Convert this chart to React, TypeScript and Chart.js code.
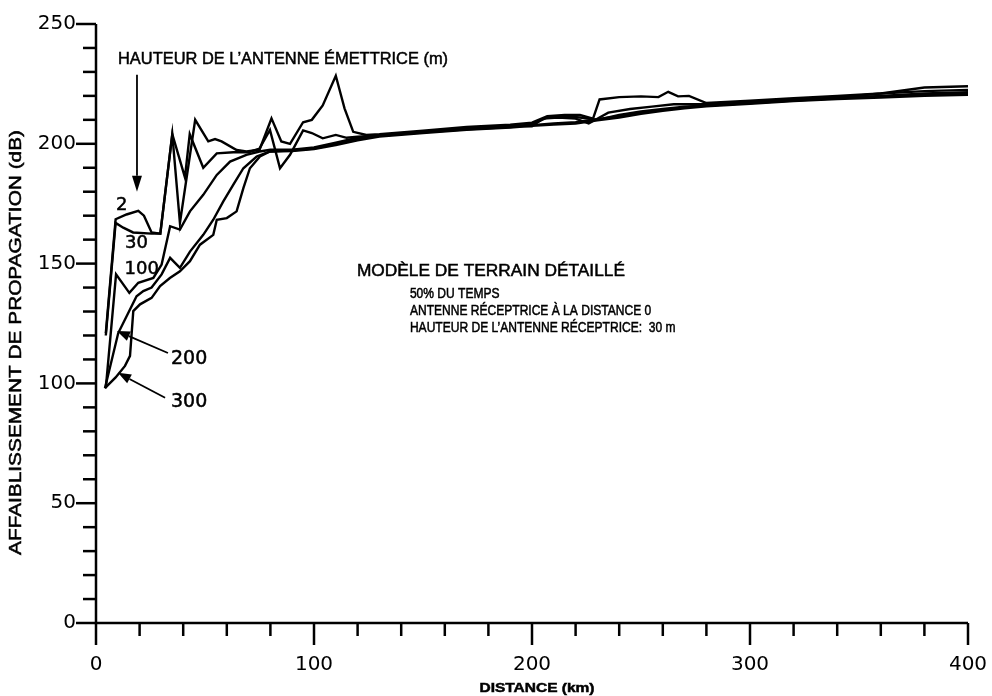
import React, { useEffect, useRef } from 'react';
import { Chart, registerables } from 'chart.js';
Chart.register(...registerables);

// Transmitting antenna heights (m)
const heights = ['2', '30', '100', '200', '300'];

// Distance (km) / path loss (dB) for each antenna height
const dist2 = [4.5, 9, 14, 19.4, 22, 25.5, 29.5, 35, 38.5, 45.5, 51.5, 54.6, 57.6, 64.5, 69, 75, 80.5, 85, 89, 95, 99, 104, 110, 114, 118, 124, 130, 150, 170, 190, 200, 207, 215, 222, 228, 231, 240, 250, 258, 262.5, 267, 272, 280, 300, 320, 340, 360, 380, 400];
const loss2 = [121, 168.5, 170.5, 172, 170, 163, 162.5, 204, 167, 210, 201, 202, 201, 197.4, 196.8, 197.5, 210.6, 201, 200, 209, 210, 216, 228.4, 214.8, 205, 203.7, 204, 205.5, 207, 208, 208.8, 211.5, 212, 212, 210.5, 218.5, 219.5, 219.8, 219.5, 221.7, 219.8, 220, 217, 218, 219, 220, 221, 222, 222.5];

const dist30 = [4.5, 9, 12.5, 17, 25.5, 29.5, 35, 40.8, 43, 49.2, 55.4, 63, 70, 75, 79.8, 84.4, 89, 95, 99, 104, 110, 115, 120, 130, 150, 170, 190, 200, 205, 212, 220, 226, 235, 245, 255, 265, 280, 300, 320, 340, 360, 380, 400];
const loss30 = [120, 167, 165, 163, 162.5, 162.5, 204, 186, 204, 190, 196, 196.5, 196.5, 198, 205.8, 189.8, 195.4, 205.6, 204.5, 202.3, 203.7, 202.5, 203, 203.5, 205, 206.5, 207.5, 207.3, 210.5, 211, 210.5, 208.5, 213, 214.5, 215.5, 216.5, 216.5, 217.5, 218.3, 219.3, 221, 223.5, 224];

const dist100 = [4.5, 9.2, 15.3, 19.4, 26.3, 30.1, 34, 38.5, 43.1, 49.2, 55.4, 61.5, 69, 75, 80, 90, 100, 110, 120, 130, 150, 170, 190, 200, 207, 215, 222, 230, 240, 250, 260, 270, 280, 300, 320, 340, 360, 380, 400];
const loss100 = [98, 145.5, 137.8, 142, 144, 149.6, 165.6, 164.2, 171.8, 178.7, 187, 192.6, 195.4, 196.8, 197.5, 197.5, 198.5, 200.5, 202.5, 203.5, 205, 206.3, 207.3, 208, 211, 211.5, 211, 210, 212, 213.5, 214.5, 215.5, 216, 217, 218, 219, 220, 221, 221.5];

const dist200 = [4.1, 10.2, 18.6, 21.7, 25.5, 30.1, 34, 38.5, 43.1, 49.2, 53.8, 58.4, 63, 67.6, 73.7, 79.8, 90, 100, 110, 120, 130, 150, 170, 190, 200, 210, 220, 230, 240, 250, 260, 270, 280, 300, 320, 340, 360, 380, 400];
const loss200 = [98, 121, 136.4, 138.5, 140, 145.5, 152.4, 148.2, 155, 162, 168.3, 176, 183, 189.8, 194.7, 196.8, 197.3, 198, 200, 202, 203.3, 204.8, 206, 207, 207.8, 208.5, 209, 210.3, 211.5, 213, 214.2, 215.2, 216, 217, 218.2, 219, 219.8, 220.5, 221];

const dist300 = [4.1, 9, 13.3, 15.6, 17.1, 20.2, 25.5, 29.4, 33.9, 38.5, 43.1, 47.7, 53.8, 55.4, 60, 64.5, 67.6, 70.6, 75.2, 79.8, 90, 100, 110, 120, 130, 150, 170, 190, 200, 210, 220, 230, 240, 250, 260, 270, 280, 300, 320, 340, 360, 380, 400];
const loss300 = [98, 102.5, 107.3, 111.5, 130.2, 133, 135.7, 140.6, 144, 146.8, 151, 157.9, 162, 168.3, 169, 171.8, 181.5, 189.8, 194.7, 196.8, 197, 197.8, 199.5, 201.5, 203, 204.5, 205.8, 206.8, 207.5, 208, 208.5, 209.8, 211, 212.5, 213.8, 214.8, 215.7, 216.7, 217.8, 218.7, 219.3, 220, 220.5];

const xMajorStep = 100;
const yMajorStep = 50;

const TEXT_FONT = '"Liberation Sans", Arial, sans-serif';
const TICK_FONT = '"DejaVu Sans", sans-serif';

// draw text at a given font size, horizontally scaled to a target width
function drawText(ctx: CanvasRenderingContext2D, text: string, x: number, y: number, size: number, width: number | null, weight = 'normal', align: CanvasTextAlign = 'left', family = TEXT_FONT) {
  ctx.save();
  ctx.font = `${weight} ${size}px ${family}`;
  ctx.textBaseline = 'middle';
  ctx.textAlign = 'left';
  const m = ctx.measureText(text).width;
  const sx = width ? width / m : 1;
  const w = m * sx;
  let left = x;
  if (align === 'center') left = x - w / 2;
  else if (align === 'right') left = x - w;
  ctx.translate(left, y);
  ctx.scale(sx, 1);
  ctx.fillText(text, 0, 0);
  ctx.lineWidth = 0.5;
  ctx.strokeText(text, 0, 0);
  ctx.restore();
}

function arrow(ctx: CanvasRenderingContext2D, x1: number, y1: number, x2: number, y2: number, headLen: number, headW: number) {
  const ang = Math.atan2(y2 - y1, x2 - x1);
  const bx = x2 - headLen * Math.cos(ang);
  const by = y2 - headLen * Math.sin(ang);
  ctx.beginPath();
  ctx.moveTo(x1, y1);
  ctx.lineTo(bx, by);
  ctx.stroke();
  ctx.beginPath();
  ctx.moveTo(x2, y2);
  ctx.lineTo(bx + (headW / 2) * Math.sin(ang), by - (headW / 2) * Math.cos(ang));
  ctx.lineTo(bx - (headW / 2) * Math.sin(ang), by + (headW / 2) * Math.cos(ang));
  ctx.closePath();
  ctx.fill();
}

const decorPlugin = {
  id: 'decor',
  afterDraw(chart: any) {
    const { ctx, chartArea: a, scales } = chart;
    const xs = scales.x;
    const ys = scales.y;
    const X = (v: number) => xs.getPixelForValue(v);
    const Y = (v: number) => ys.getPixelForValue(v);
    ctx.save();
    ctx.strokeStyle = '#000';
    ctx.fillStyle = '#000';
    ctx.lineWidth = 2.5;
    ctx.lineCap = 'butt';
    // axis lines
    ctx.beginPath();
    ctx.moveTo(a.left, a.top);
    ctx.lineTo(a.left, a.bottom);
    ctx.lineTo(a.right, a.bottom);
    ctx.stroke();
    // y ticks
    ys.ticks.forEach((t: any) => {
      const py = ys.getPixelForValue(t.value);
      const len = t.value % yMajorStep === 0 ? 20 : 13;
      ctx.beginPath();
      ctx.moveTo(a.left - len, py);
      ctx.lineTo(a.left, py);
      ctx.stroke();
    });
    // x ticks
    xs.ticks.forEach((t: any) => {
      const px = xs.getPixelForValue(t.value);
      const len = t.value % xMajorStep === 0 ? 22 : 13;
      ctx.beginPath();
      ctx.moveTo(px, a.bottom);
      ctx.lineTo(px, a.bottom + len);
      ctx.stroke();
    });

    // axis titles
    ctx.save();
    ctx.translate(17, (a.top + a.bottom) / 2 + 19);
    ctx.rotate(-Math.PI / 2);
    drawText(ctx, 'AFFAIBLISSEMENT DE PROPAGATION (dB)', 0, 0, 16, 425, 'normal', 'center');
    ctx.restore();
    drawText(ctx, 'DISTANCE (km)', (a.left + a.right) / 2 + 5, 688, 13.5, 115, 'bold', 'center');

    // annotations
    drawText(ctx, 'HAUTEUR DE L\u2019ANTENNE \u00C9METTRICE (m)', X(10.1), Y(235), 16.5, 330);
    ctx.lineWidth = 1.8;
    arrow(ctx, X(18.8), Y(228.8), X(18.8), Y(180), 16, 10);
    drawText(ctx, '2', X(11.8), Y(174.3), 18, null, 'normal', 'center', TICK_FONT);
    drawText(ctx, '30', X(18.6), Y(158.5), 18, null, 'normal', 'center', TICK_FONT);
    drawText(ctx, '100', X(21), Y(147.6), 18, null, 'normal', 'center', TICK_FONT);
    drawText(ctx, '200', X(34.4), Y(110.2), 19, null, 'normal', 'left', TICK_FONT);
    drawText(ctx, '300', X(34.4), Y(92.2), 19, null, 'normal', 'left', TICK_FONT);
    arrow(ctx, X(33), Y(112.7), X(9.6), Y(121.9), 13, 10);
    arrow(ctx, X(31.7), Y(94), X(10.1), Y(104.4), 13, 10);

    drawText(ctx, 'MOD\u00C8LE DE TERRAIN D\u00C9TAILL\u00C9', X(119.7), Y(146.8), 16.5, 268);
    const blockSize = 14;
    const blockScale = 0.86;
    const lines = ['50% DU TEMPS', 'ANTENNE R\u00C9CEPTRICE \u00C0 LA DISTANCE 0', 'HAUTEUR DE L\u2019ANTENNE R\u00C9CEPTRICE:  30 m'];
    const lineY = [137.3, 130.2, 123.1];
    lines.forEach((t, i) => {
      ctx.font = `normal ${blockSize}px ${TEXT_FONT}`;
      const w = ctx.measureText(t).width * blockScale;
      drawText(ctx, t, X(144), Y(lineY[i]), blockSize, w);
    });
    ctx.restore();
  },
};

export default function App() {
  const ref = useRef<HTMLCanvasElement>(null);
  useEffect(() => {
    const series: [number[], number[]][] = [
      [dist2, loss2],
      [dist30, loss30],
      [dist100, loss100],
      [dist200, loss200],
      [dist300, loss300],
    ];
    const chart = new Chart(ref.current as HTMLCanvasElement, {
      type: 'scatter',
      data: {
        datasets: series.map(([d, l], i) => ({
          label: heights[i],
          data: d.map((x, j) => ({ x, y: l[j] })),
          showLine: true,
          borderColor: '#000',
          backgroundColor: '#000',
          borderWidth: 2.4,
          pointRadius: 0,
          tension: 0,
          fill: false,
        })),
      },
      options: {
        responsive: false,
        animation: false,
        devicePixelRatio: 1,
        layout: { padding: { top: 12, right: 0, left: 0, bottom: 0 } },
        plugins: { legend: { display: false }, tooltip: { enabled: false } },
        scales: {
          x: {
            type: 'linear',
            min: 0,
            max: 400,
            grid: { display: false },
            border: { display: false },
            ticks: {
              stepSize: 20,
              autoSkip: false,
              maxRotation: 0,
              padding: 22,
              color: '#000',
              font: { family: TICK_FONT, size: 20 },
              callback: (v: any) => (Number(v) % xMajorStep === 0 ? String(v) : ''),
            },
            afterFit: (s: any) => {
              s.height = 73;
              s.paddingRight = 24;
              s.paddingLeft = 0;
            },
          },
          y: {
            type: 'linear',
            min: 0,
            max: 250,
            grid: { display: false },
            border: { display: false },
            ticks: {
              stepSize: 10,
              autoSkip: false,
              padding: 12,
              color: '#000',
              font: { family: TICK_FONT, size: 20 },
              callback: (v: any) => (Number(v) % yMajorStep === 0 ? String(v) : ''),
            },
            afterFit: (s: any) => {
              s.width = 96;
            },
          },
        },
      },
      plugins: [decorPlugin],
    } as any);
    return () => chart.destroy();
  }, []);
  return (
    <div style={{ position: 'fixed', left: 0, top: 0, width: 992, height: 696, background: '#fff' }}>
      <canvas ref={ref} width={992} height={696} style={{ display: 'block' }} />
    </div>
  );
}
